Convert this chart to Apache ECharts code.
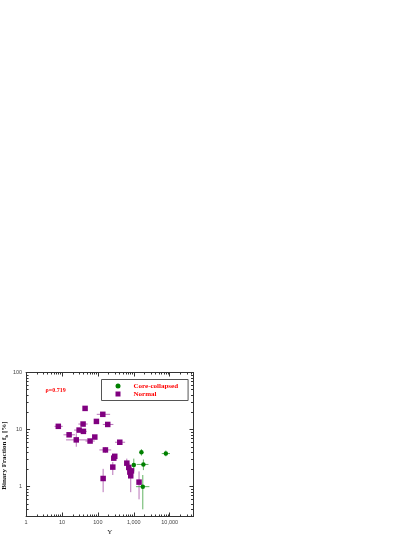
<!DOCTYPE html>
<html>
<head>
<meta charset="utf-8">
<script src="https://cdn.jsdelivr.net/npm/echarts@6/dist/echarts.min.js"></script>
<style>
html, body { margin: 0; padding: 0; background: #fff; }
#chart { width: 415px; height: 537px; }
</style>
</head>
<body>
<div id="chart"></div>
<script>
// Normal clusters: upsilon, binary fraction and error ranges
var normalUps = [7.9, 15.8, 25, 30, 38.7, 39.5, 44, 60.6, 82, 91, 137, 188, 162, 407, 140, 260, 277, 295, 639, 725, 776, 822, 860, 1400];
var normalFb = [11.4, 8.1, 6.6, 9.8, 12.5, 9.3, 23.5, 6.3, 7.4, 13.9, 18.5, 12.3, 4.4, 6.0, 1.39, 2.2, 3.16, 3.4, 2.58, 2.17, 1.8, 1.55, 1.89, 1.2];
var normalUpsLo = [6.2, 11, 13, 21.7, 28.6, 32, 40, 45, 76, 85, 93, 137, 110, 300, 130, 240, 260, 280, 600, 690, 740, 790, 820, 1330];
var normalUpsHi = [10.5, 23, 50, 42, 52, 49, 48, 82, 88, 97, 219, 270, 235, 574, 150, 270, 295, 310, 680, 760, 815, 855, 900, 1470];
var normalFbLo = [10.6, 7.6, 5.0, 9.2, 11.8, 8.7, 21.8, 5.9, 7.0, 13.1, 17.4, 11.5, 3.9, 5.6, 0.8, 1.6, 2.9, 3.1, 2.3, 1.9, 1.55, 0.8, 1.65, 0.6];
var normalFbHi = [12.3, 8.6, 8.6, 10.4, 13.3, 9.9, 25.3, 6.7, 7.8, 14.7, 19.6, 13.1, 4.9, 6.4, 2.05, 2.7, 3.45, 3.75, 3.1, 2.6, 2.1, 2.2, 2.15, 1.85];

// Core-collapsed clusters
var ccUps = [1000, 1630, 1850, 1780, 7800];
var ccFb = [2.4, 4.0, 2.45, 1.0, 3.8];
var ccUpsLo = [950, 1500, 1200, 1150, 6000];
var ccUpsHi = [1050, 1770, 2560, 2720, 10200];
var ccFbLo = [1.85, 3.5, 1.95, 0.4, 3.4];
var ccFbHi = [3.1, 4.55, 3.0, 1.6, 4.3];

var xMajor = [1, 10, 100, 1000, 10000];
var yMajor = [1, 10, 100];
var xMinor = [2, 3, 4, 5, 6, 7, 8, 9, 20, 30, 40, 50, 60, 70, 80, 90, 200, 300, 400, 500, 600, 700, 800, 900,
  2000, 3000, 4000, 5000, 6000, 7000, 8000, 9000, 20000, 30000, 40000];
var yMinor = [0.3, 0.4, 0.5, 0.6, 0.7, 0.8, 0.9, 2, 3, 4, 5, 6, 7, 8, 9, 20, 30, 40, 50, 60, 70, 80, 90];

var xMin = 1, xMax = 46000, yMin = 0.3, yMax = 100;
var axisColor = '#333';

function rows(x, y, xl, xh, yl, yh) {
  return x.map(function (v, i) { return [v, y[i], xl[i], xh[i], yl[i], yh[i]]; });
}

function makeAxis(kind, position, ticks, len, withLabels) {
  var ax = {
    type: 'log', logBase: 10, gridIndex: 0, position: position,
    min: kind === 'x' ? xMin : yMin,
    max: kind === 'x' ? xMax : yMax,
    axisLine: { show: withLabels !== undefined, lineStyle: { color: axisColor, width: 1 } },
    axisTick: { show: true, inside: true, length: len, customValues: ticks, lineStyle: { color: axisColor, width: 1 } },
    axisLabel: { show: false },
    splitLine: { show: false }
  };
  if (withLabels) {
    ax.axisLabel = {
      show: true, customValues: ticks, color: '#444', fontSize: 5.5,
      fontFamily: 'Liberation Sans', margin: kind === 'x' ? 3 : 4,
      formatter: function (v) { return Math.round(v).toLocaleString('en-US'); }
    };
  }
  return ax;
}

var xAxes = [
  makeAxis('x', 'bottom', xMajor, 4, true),
  makeAxis('x', 'bottom', xMinor, 2),
  makeAxis('x', 'top', xMajor, 4, false),
  makeAxis('x', 'top', xMinor, 2)
];
xAxes[0].name = 'Υ';
xAxes[0].nameLocation = 'middle';
xAxes[0].nameGap = 12;
xAxes[0].nameTextStyle = { fontFamily: 'Liberation Serif', fontSize: 7, color: '#222' };

var yAxes = [
  makeAxis('y', 'left', yMajor, 4, true),
  makeAxis('y', 'left', yMinor, 2.5),
  makeAxis('y', 'right', yMajor, 4, false),
  makeAxis('y', 'right', yMinor, 2.5)
];
yAxes[0].name = '{t|Binary Fraction f}{s|b}{t| [%]}';
yAxes[0].nameLocation = 'middle';
yAxes[0].nameGap = 12;
yAxes[0].nameTextStyle = {
  padding: [0, 22, 0, 0],
  rich: {
    t: { fontFamily: 'Liberation Serif', fontWeight: 'bold', fontSize: 7, color: '#111' },
    s: { fontFamily: 'Liberation Serif', fontWeight: 'bold', fontSize: 5, color: '#111', padding: [4, 0, 0, 0] }
  }
};

function errorBars(params, api) {
  var c = api.coord([api.value(0), api.value(1)]);
  var xl = api.coord([api.value(2), api.value(1)]);
  var xh = api.coord([api.value(3), api.value(1)]);
  var yl = api.coord([api.value(0), api.value(4)]);
  var yh = api.coord([api.value(0), api.value(5)]);
  var style = { stroke: api.visual('color'), lineWidth: 1 };
  return {
    type: 'group',
    children: [
      { type: 'line', shape: { x1: xl[0], y1: c[1], x2: xh[0], y2: c[1] }, style: style },
      { type: 'line', shape: { x1: c[0], y1: yl[1], x2: c[0], y2: yh[1] }, style: style }
    ]
  };
}

var chart = echarts.init(document.getElementById('chart'));
chart.setOption({
  animation: false,
  backgroundColor: '#fff',
  grid: { left: 26, right: 221.5, top: 372.5, bottom: 20.5, containLabel: false },
  xAxis: xAxes,
  yAxis: yAxes,
  legend: {
    left: 101.5, top: 379.5, orient: 'vertical',
    data: [{ name: 'Core-collapsed', icon: 'circle' }, { name: 'Normal', icon: 'rect' }],
    padding: [3, 10, 3, 14], itemGap: 1, itemWidth: 5, itemHeight: 5,
    borderColor: '#555', borderWidth: 1,
    textStyle: { color: '#ff0000', fontWeight: 'bold', fontFamily: 'Liberation Serif', fontSize: 7, padding: [0, 0, 0, 8] }
  },
  graphic: [{
    type: 'text', left: 45.5, top: 387.5,
    style: { text: 'ρ=0.719', fill: '#ff0000', font: 'bold 6px "Liberation Serif"' }
  }],
  series: [
    {
      name: 'normal-err', type: 'custom', renderItem: errorBars, z: 1,
      itemStyle: { color: 'rgba(160, 70, 160, 0.75)' },
      encode: { x: 0, y: 1 },
      data: rows(normalUps, normalFb, normalUpsLo, normalUpsHi, normalFbLo, normalFbHi)
    },
    {
      name: 'cc-err', type: 'custom', renderItem: errorBars, z: 1,
      itemStyle: { color: 'rgba(60, 160, 60, 0.8)' },
      encode: { x: 0, y: 1 },
      data: rows(ccUps, ccFb, ccUpsLo, ccUpsHi, ccFbLo, ccFbHi)
    },
    {
      name: 'Normal', type: 'scatter', symbol: 'rect', symbolSize: 5.5, z: 3,
      itemStyle: { color: '#800080', opacity: 1 },
      data: normalUps.map(function (v, i) { return [v, normalFb[i]]; })
    },
    {
      name: 'Core-collapsed', type: 'scatter', symbol: 'circle', symbolSize: 4.5, z: 3,
      itemStyle: { color: '#008000', opacity: 1 },
      data: ccUps.map(function (v, i) { return [v, ccFb[i]]; })
    }
  ]
});
</script>
</body>
</html>
